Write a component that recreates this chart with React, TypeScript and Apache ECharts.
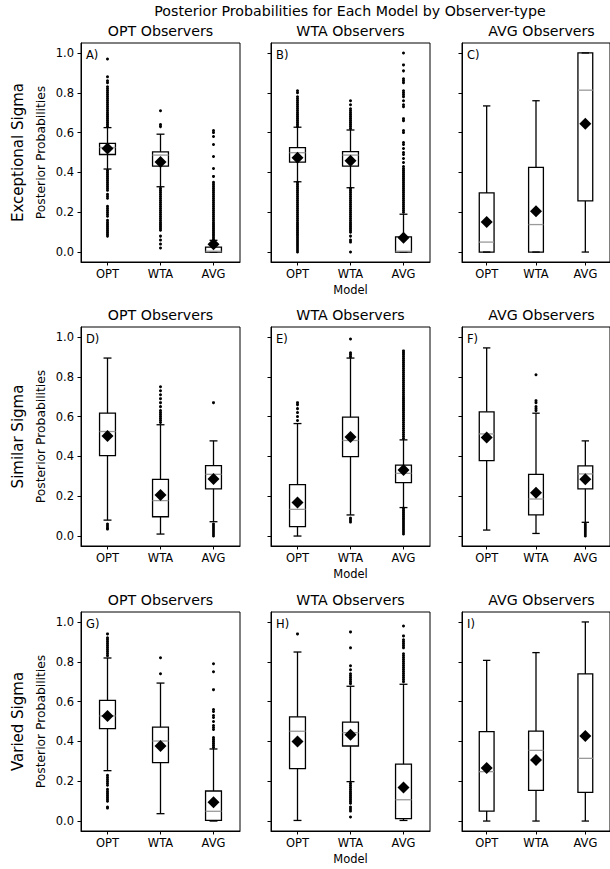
import React, { useEffect, useRef } from "react";
import * as echarts from "echarts";

const models = ["OPT", "WTA", "AVG"];
const observerTitles = ["OPT Observers", "WTA Observers", "AVG Observers"];
const conditionLabels = ["Exceptional Sigma", "Similar Sigma", "Varied Sigma"];
const panelLetters = ["A)", "B)", "C)", "D)", "E)", "F)", "G)", "H)", "I)"];
const yTicks = [0, 0.2, 0.4, 0.6, 0.8, 1.0];
const suptitle = "Posterior Probabilities for Each Model by Observer-type";

// [whiskerLow, q1, median, q3, whiskerHigh] for OPT, WTA, AVG models
const statsA = [[0.417, 0.49, 0.525, 0.546, 0.625], [0.328, 0.432, 0.487, 0.503, 0.592], [0, 0, 0.004, 0.025, 0.059]];
const statsB = [[0.353, 0.452, 0.499, 0.524, 0.627], [0.323, 0.432, 0.487, 0.504, 0.613], [0, 0, 0.004, 0.076, 0.19]];
const statsC = [[0, 0, 0.05, 0.297, 0.734], [0, 0, 0.138, 0.425, 0.76], [0, 0.257, 0.813, 1.0, 1.0]];
const statsD = [[0.08, 0.404, 0.525, 0.617, 0.894], [0.01, 0.097, 0.178, 0.285, 0.559], [0.072, 0.237, 0.31, 0.354, 0.478]];
const statsE = [[0, 0.047, 0.134, 0.258, 0.565], [0.106, 0.399, 0.48, 0.597, 0.894], [0.143, 0.268, 0.315, 0.356, 0.483]];
const statsF = [[0.03, 0.379, 0.513, 0.624, 0.945], [0.013, 0.106, 0.186, 0.31, 0.617], [0.069, 0.237, 0.312, 0.352, 0.478]];
const statsG = [[0.253, 0.464, 0.528, 0.606, 0.819], [0.037, 0.293, 0.402, 0.472, 0.693], [0, 0.003, 0.049, 0.151, 0.362]];
const statsH = [[0.003, 0.263, 0.451, 0.523, 0.849], [0.198, 0.377, 0.444, 0.497, 0.677], [0.003, 0.012, 0.107, 0.286, 0.687]];
const statsI = [[0, 0.05, 0.248, 0.449, 0.807], [0, 0.154, 0.355, 0.452, 0.846], [0, 0.144, 0.315, 0.739, 1.0]];

const meansA = [0.52, 0.452, 0.039];
const meansB = [0.474, 0.459, 0.072];
const meansC = [0.151, 0.205, 0.644];
const meansD = [0.503, 0.206, 0.287];
const meansE = [0.168, 0.497, 0.332];
const meansF = [0.495, 0.218, 0.285];
const meansG = [0.528, 0.377, 0.095];
const meansH = [0.399, 0.434, 0.168];
const meansI = [0.266, 0.307, 0.427];

// outliers (fliers) per model
const outA_OPT = [0.63, 0.64, 0.65, 0.66, 0.67, 0.68, 0.69, 0.70, 0.71, 0.72, 0.73, 0.74, 0.75, 0.76, 0.77, 0.78, 0.79, 0.80, 0.81, 0.82, 0.83, 0.85, 0.86, 0.88, 0.97,
  0.41, 0.40, 0.39, 0.38, 0.37, 0.36, 0.35, 0.34, 0.33, 0.32, 0.31, 0.29, 0.28, 0.27, 0.23, 0.22, 0.21, 0.20, 0.19, 0.18, 0.16, 0.15, 0.14, 0.13, 0.12, 0.11, 0.10, 0.09, 0.08];
const outA_WTA = [0.63, 0.64, 0.71, 0.32, 0.31, 0.30, 0.29, 0.28, 0.27, 0.26, 0.25, 0.24, 0.23, 0.22, 0.21, 0.20, 0.19, 0.18, 0.17, 0.16, 0.15, 0.14, 0.13, 0.12, 0.11, 0.08, 0.06, 0.04, 0.02];
const outA_AVG = [0.06, 0.07, 0.08, 0.09, 0.10, 0.11, 0.12, 0.13, 0.14, 0.15, 0.16, 0.17, 0.18, 0.19, 0.20, 0.21, 0.22, 0.23, 0.24, 0.25, 0.26, 0.27, 0.28, 0.29, 0.30, 0.31, 0.32, 0.33, 0.34, 0.35,
  0.38, 0.42, 0.48, 0.54, 0.58, 0.60, 0.61];
const outB_OPT = [0.63, 0.64, 0.65, 0.66, 0.67, 0.68, 0.69, 0.70, 0.71, 0.72, 0.73, 0.74, 0.75, 0.76, 0.77, 0.78, 0.80, 0.81,
  0.35, 0.34, 0.33, 0.32, 0.31, 0.30, 0.29, 0.28, 0.27, 0.26, 0.25, 0.24, 0.23, 0.22, 0.21, 0.20, 0.19, 0.18, 0.17, 0.16, 0.15, 0.14, 0.13, 0.12, 0.11, 0.10, 0.09, 0.08, 0.07, 0.06, 0.05, 0.04, 0.03, 0.02, 0.01, 0.00];
const outB_WTA = [0.62, 0.63, 0.64, 0.65, 0.66, 0.67, 0.68, 0.69, 0.70, 0.71, 0.72, 0.74, 0.76,
  0.32, 0.31, 0.30, 0.29, 0.28, 0.27, 0.26, 0.25, 0.24, 0.23, 0.22, 0.21, 0.20, 0.19, 0.18, 0.17, 0.16, 0.15, 0.14, 0.13, 0.12, 0.11, 0.10, 0.08, 0.06, 0.05, 0.00];
const outB_AVG = [0.20, 0.21, 0.22, 0.23, 0.24, 0.25, 0.26, 0.27, 0.28, 0.29, 0.30, 0.31, 0.32, 0.33, 0.34, 0.35, 0.36, 0.37, 0.38, 0.39, 0.40, 0.41, 0.42,
  0.43, 0.45, 0.47, 0.49, 0.50, 0.52, 0.54, 0.55, 0.60, 0.61, 0.66, 0.67, 0.73, 0.74, 0.76, 0.78, 0.79, 0.80, 0.81, 0.85, 0.86, 0.87, 0.91, 0.94, 1.00];
const outC_OPT: number[] = [];
const outC_WTA: number[] = [];
const outC_AVG: number[] = [];
const outD_OPT = [0.06, 0.05, 0.04, 0.035];
const outD_WTA = [0.57, 0.58, 0.59, 0.60, 0.61, 0.62, 0.63, 0.65, 0.67, 0.69, 0.71, 0.73, 0.75];
const outD_AVG = [0.67, 0.06, 0.05, 0.04, 0.03, 0.02, 0.01, 0.00];
const outE_OPT = [0.58, 0.60, 0.62, 0.64, 0.66, 0.67];
const outE_WTA = [0.90, 0.91, 0.92, 0.99, 0.09, 0.08, 0.07];
const outE_AVG = [0.49, 0.50, 0.51, 0.52, 0.53, 0.54, 0.55, 0.56, 0.57, 0.58, 0.59, 0.60, 0.61, 0.62, 0.63, 0.64, 0.65, 0.66, 0.67, 0.68, 0.69, 0.70, 0.71, 0.72, 0.73, 0.74, 0.75, 0.76, 0.77, 0.78, 0.79, 0.80, 0.81, 0.82, 0.83, 0.84, 0.85, 0.86, 0.87, 0.88, 0.89, 0.90, 0.91, 0.92, 0.93,
  0.14, 0.13, 0.12, 0.11, 0.10, 0.09, 0.08, 0.07, 0.06, 0.05, 0.04, 0.03, 0.02, 0.01];
const outF_OPT: number[] = [];
const outF_WTA = [0.63, 0.64, 0.65, 0.67, 0.68, 0.81];
const outF_AVG = [0.06, 0.05, 0.04, 0.03, 0.02, 0.01, 0.00];
const outG_OPT = [0.83, 0.84, 0.85, 0.86, 0.87, 0.88, 0.89, 0.90, 0.91, 0.92, 0.94,
  0.23, 0.22, 0.21, 0.20, 0.19, 0.18, 0.16, 0.15, 0.14, 0.13, 0.12, 0.11, 0.10, 0.07, 0.065];
const outG_WTA = [0.74, 0.82];
const outG_AVG = [0.37, 0.38, 0.39, 0.40, 0.41, 0.42, 0.46, 0.47, 0.48, 0.50, 0.52, 0.53, 0.55, 0.56, 0.66, 0.75, 0.79];
const outH_OPT = [0.94];
const outH_WTA = [0.69, 0.70, 0.71, 0.72, 0.73, 0.74, 0.76, 0.78, 0.87, 0.95,
  0.19, 0.18, 0.17, 0.16, 0.15, 0.14, 0.13, 0.12, 0.11, 0.10, 0.09, 0.07, 0.06, 0.05, 0.02];
const outH_AVG = [0.70, 0.71, 0.72, 0.73, 0.74, 0.75, 0.76, 0.77, 0.78, 0.79, 0.80, 0.81, 0.82, 0.83, 0.84, 0.87, 0.88, 0.89, 0.90, 0.91, 0.93, 0.98];
const outI_OPT: number[] = [];
const outI_WTA: number[] = [];
const outI_AVG: number[] = [];

const panels = [
  { stats: statsA, means: meansA, out: [outA_OPT, outA_WTA, outA_AVG] },
  { stats: statsB, means: meansB, out: [outB_OPT, outB_WTA, outB_AVG] },
  { stats: statsC, means: meansC, out: [outC_OPT, outC_WTA, outC_AVG] },
  { stats: statsD, means: meansD, out: [outD_OPT, outD_WTA, outD_AVG] },
  { stats: statsE, means: meansE, out: [outE_OPT, outE_WTA, outE_AVG] },
  { stats: statsF, means: meansF, out: [outF_OPT, outF_WTA, outF_AVG] },
  { stats: statsG, means: meansG, out: [outG_OPT, outG_WTA, outG_AVG] },
  { stats: statsH, means: meansH, out: [outH_OPT, outH_WTA, outH_AVG] },
  { stats: statsI, means: meansI, out: [outI_OPT, outI_WTA, outI_AVG] },
];

const FONT = "DejaVu Sans";
const gridLefts = [81, 271, 462];
const gridTops = [43, 327, 612];
const GW = 159;
const GH = 219;

function buildOption() {
  const grid: any[] = [];
  const xAxis: any[] = [];
  const yAxis: any[] = [];
  const series: any[] = [];
  const graphic: any[] = [];

  graphic.push({
    type: "text", x: 350, y: 11,
    style: { text: suptitle, fontSize: 14.2, fontFamily: FONT, fill: "#000", align: "center", verticalAlign: "middle" },
  });

  for (let r = 0; r < 3; r++) {
    graphic.push({
      type: "text", x: 18, y: gridTops[r] + GH / 2, rotation: Math.PI / 2,
      style: { text: conditionLabels[r], fontSize: 15, fontFamily: FONT, fill: "#000", align: "center", verticalAlign: "middle" },
    });
    for (let c = 0; c < 3; c++) {
      const i = r * 3 + c;
      const p = panels[i];
      grid.push({
        left: gridLefts[c], top: gridTops[r], width: GW, height: GH,
        show: true, borderColor: "#000", borderWidth: 1, backgroundColor: "transparent",
      });
      xAxis.push({
        gridIndex: i, type: "category", data: models, boundaryGap: true,
        axisLine: { show: true, onZero: false, lineStyle: { color: "#000", width: 1 } },
        axisTick: { show: true, alignWithLabel: true, length: 3.5, lineStyle: { color: "#000" } },
        axisLabel: { show: true, margin: 6, fontSize: 11.5, fontFamily: FONT, color: "#000" },
        splitLine: { show: false },
        name: c === 1 ? "Model" : "",
        nameLocation: "middle", nameGap: 22,
        nameTextStyle: { fontSize: 11.5, fontFamily: FONT, color: "#000" },
      });
      yAxis.push({
        gridIndex: i, type: "value", min: -0.05, max: 1.05,
        axisLine: { show: true, lineStyle: { color: "#000", width: 1 } },
        axisTick: { show: true, length: 3.5, customValues: yTicks, lineStyle: { color: "#000" } },
        axisLabel: {
          show: c === 0, customValues: yTicks, margin: 7, fontSize: 11.5, fontFamily: FONT, color: "#000",
          formatter: (v: number) => v.toFixed(1),
        },
        splitLine: { show: false },
        name: c === 0 ? "Posterior Probabilities" : "",
        nameLocation: "middle", nameGap: 34, nameRotate: 90,
        nameTextStyle: { fontSize: 12.3, fontFamily: FONT, color: "#000" },
      });
      graphic.push({
        type: "text", x: gridLefts[c] + GW / 2, y: gridTops[r] - 12,
        style: { text: observerTitles[c], fontSize: 14.2, fontFamily: FONT, fill: "#000", align: "center", verticalAlign: "middle" },
      });
      graphic.push({
        type: "text", x: gridLefts[c] + 5, y: gridTops[r] + 11.5,
        style: { text: panelLetters[i], fontSize: 11.5, fontFamily: FONT, fill: "#000", align: "left", verticalAlign: "middle" },
      });

      const boxData = p.stats.map((s, k) => [k, ...s]);
      series.push({
        type: "custom", xAxisIndex: i, yAxisIndex: i, z: 2,
        data: boxData,
        encode: { x: 0, y: [1, 2, 3, 4, 5] },
        renderItem: (params: any, api: any) => {
          const k = api.value(0);
          const lo = api.coord([k, api.value(1)]);
          const q1 = api.coord([k, api.value(2)]);
          const md = api.coord([k, api.value(3)]);
          const q3 = api.coord([k, api.value(4)]);
          const hi = api.coord([k, api.value(5)]);
          const band = api.size([1, 0])[0];
          const bw = band * 0.3;
          const cw = bw / 2;
          const cx = lo[0];
          const ls = { stroke: "#000", lineWidth: 1.3, fill: null };
          return {
            type: "group",
            children: [
              { type: "line", shape: { x1: cx, y1: lo[1], x2: cx, y2: q1[1] }, style: ls },
              { type: "line", shape: { x1: cx, y1: q3[1], x2: cx, y2: hi[1] }, style: ls },
              { type: "line", shape: { x1: cx - cw / 2, y1: lo[1], x2: cx + cw / 2, y2: lo[1] }, style: ls },
              { type: "line", shape: { x1: cx - cw / 2, y1: hi[1], x2: cx + cw / 2, y2: hi[1] }, style: ls },
              { type: "rect", shape: { x: cx - bw / 2, y: q3[1], width: bw, height: q1[1] - q3[1] }, style: { stroke: "#000", lineWidth: 1.3, fill: "none" } },
              { type: "line", shape: { x1: cx - bw / 2, y1: md[1], x2: cx + bw / 2, y2: md[1] }, style: { stroke: "#9a9a9a", lineWidth: 1.3 } },
            ],
          };
        },
      });

      const outData: number[][] = [];
      p.out.forEach((arr, k) => arr.forEach((v) => outData.push([k, v])));
      series.push({
        type: "scatter", xAxisIndex: i, yAxisIndex: i, z: 3,
        symbol: "circle", symbolSize: 3,
        itemStyle: { color: "#000", opacity: 1 },
        data: outData,
      });
      series.push({
        type: "scatter", xAxisIndex: i, yAxisIndex: i, z: 4,
        symbol: "diamond", symbolSize: 12,
        itemStyle: { color: "#000", opacity: 1 },
        data: p.means.map((m, k) => [k, m]),
      });
    }
  }

  return {
    animation: false,
    backgroundColor: "#fff",
    textStyle: { fontFamily: FONT },
    grid, xAxis, yAxis, series, graphic,
  };
}

export default function App() {
  const ref = useRef<HTMLDivElement>(null);
  useEffect(() => {
    if (!ref.current) return;
    const chart = echarts.init(ref.current, undefined, { renderer: "svg" });
    chart.setOption(buildOption() as any);
    return () => chart.dispose();
  }, []);
  return (
    <div
      ref={ref}
      style={{ position: "absolute", left: 0, top: 0, width: 610, height: 869, background: "#fff" }}
    />
  );
}
